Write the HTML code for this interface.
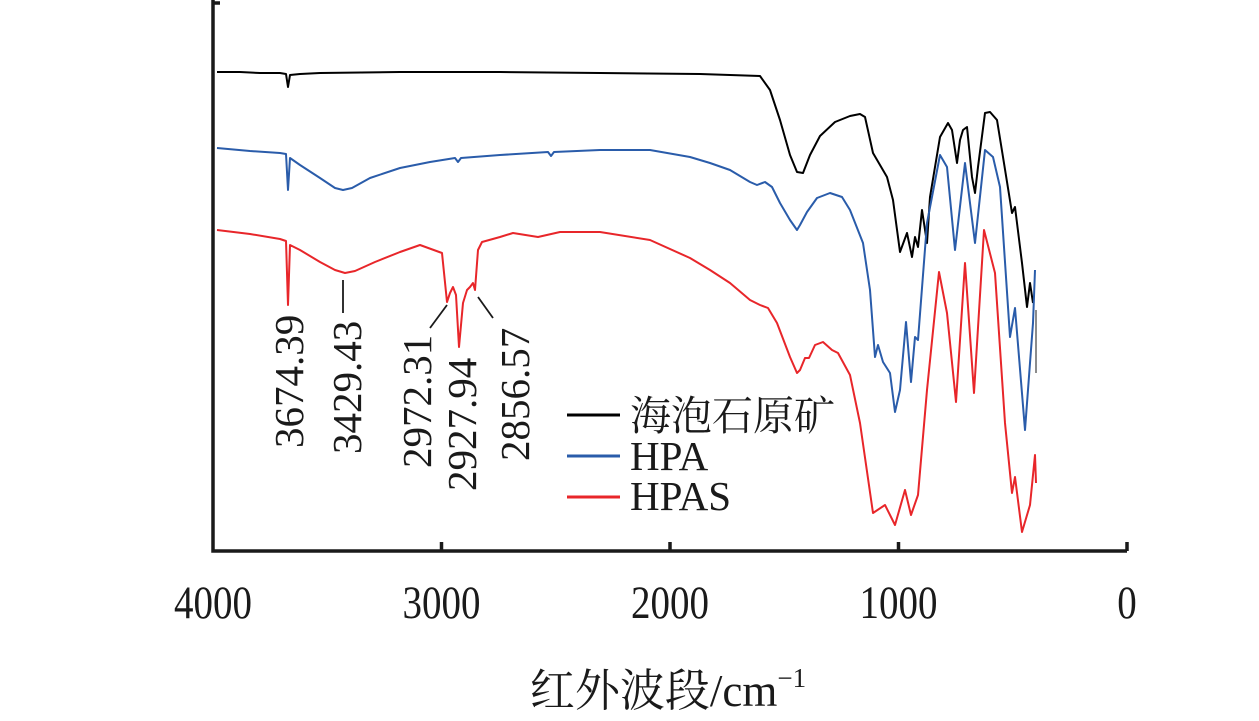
<!DOCTYPE html>
<html><head><meta charset="utf-8"><style>
html,body{margin:0;padding:0;background:#fff;}
svg{display:block;}
text{font-family:"Liberation Serif","Noto Serif CJK SC",serif;fill:#1a1a1a;}
</style></head><body>
<svg width="1259" height="721" viewBox="0 0 1259 721" xmlns="http://www.w3.org/2000/svg">
<g fill="none" stroke-linejoin="round" stroke-width="2">
<polyline stroke="#000" points="217,72 240,72 260,73 280,73 286,74 288,87 290,75 300,74 320,73 400,72 500,72 600,73 700,74 760,76 770,90 780,120 790,155 797,172 803,173 810,155 820,136 835,122 850,116 860,114 865,117 873,153 887,177 893,200 900,252 907,233 912,257 915,237 918,247 922,210 927,243 930,197 940,137 948,123 952,130 957,163 960,140 963,130 967,127 972,177 975,193 978,167 985,113 990,112 997,120 1003,157 1012,213 1015,207 1022,263 1027,307 1030,283 1033,303"/>
<line x1="1036" y1="310" x2="1036" y2="373" stroke="#666" stroke-width="1.5"/>
<polyline stroke="#2a5caa" points="217,148 250,151 280,153 286,154 288,190 290,158 300,165 320,178 335,188 343,190 352,188 370,178 400,168 430,162 455,158 458,162 461,158 500,155 548,152 551,156 554,152 600,150 650,150 690,157 710,163 730,170 750,182 757,185 765,182 772,187 780,203 790,220 797,230 800,225 807,212 817,198 830,193 842,197 850,210 863,243 870,290 875,357 878,345 883,362 890,373 895,412 900,390 906,322 911,382 915,337 918,340 927,223 940,155 947,167 955,250 965,163 975,243 985,150 993,157 1000,187 1010,337 1015,308 1025,430 1030,363 1033,323 1035,270"/>
<polyline stroke="#e8262a" points="217,230 250,234 280,239 286,241 288,305 290,245 300,250 320,262 335,270 345,273 355,271 375,262 400,252 420,245 442,253 447,302 450,293 453,287 456,295 459,347 463,303 467,290 470,287 473,283 475,290 478,250 482,242 500,237 513,233 538,237 560,232 600,232 650,240 690,258 710,270 730,283 750,300 760,305 768,308 777,323 790,357 797,373 800,370 805,358 809,358 815,345 823,342 832,350 838,353 850,375 860,423 873,513 885,505 895,525 905,490 911,515 918,495 927,390 939,272 947,313 956,402 965,263 974,393 984,230 995,273 1005,423 1012,493 1015,477 1022,532 1030,505 1035,455 1036,483"/>
</g>
<g stroke="#1a1a1a" stroke-width="1.8">
<line x1="343" y1="280" x2="343" y2="313"/>
<line x1="430" y1="328" x2="447" y2="305"/>
<line x1="478" y1="297" x2="493" y2="318"/>
</g>
<g stroke="#1a1a1a" stroke-width="3.5" fill="none">
<polyline points="213,0 213,551 1127,551"/>
<line x1="441.5" y1="551" x2="441.5" y2="542"/>
<line x1="670" y1="551" x2="670" y2="542"/>
<line x1="898.5" y1="551" x2="898.5" y2="542"/>
<line x1="1127" y1="551" x2="1127" y2="542"/>
<line x1="213" y1="3" x2="220" y2="3"/>
</g>
<g font-size="41">
<text transform="translate(303,448) rotate(-90)">3674.39</text>
<text transform="translate(361,454) rotate(-90)">3429.43</text>
<text transform="translate(431,468) rotate(-90)">2972.31</text>
<text transform="translate(476,491) rotate(-90)">2927.94</text>
<text transform="translate(529,461) rotate(-90)">2856.57</text>
</g>
<g stroke-width="3">
<line x1="567" y1="415" x2="620" y2="415" stroke="#000"/>
<line x1="567" y1="456" x2="620" y2="456" stroke="#2a5caa"/>
<line x1="567" y1="497" x2="620" y2="497" stroke="#e8262a"/>
</g>
<g font-size="41">
<text x="630" y="430">海泡石原矿</text>
<text x="630" y="470">HPA</text>
<text x="630" y="510">HPAS</text>
</g>
<g font-size="39" text-anchor="middle">
<text transform="translate(213,618) scale(1,1.2)">4000</text>
<text transform="translate(441.5,618) scale(1,1.2)">3000</text>
<text transform="translate(670,618) scale(1,1.2)">2000</text>
<text transform="translate(898.5,618) scale(1,1.2)">1000</text>
<text transform="translate(1127,618) scale(1,1.2)">0</text>
</g>
<text x="668" y="706" font-size="45" text-anchor="middle">红外波段/cm<tspan font-size="27" dy="-19">−1</tspan></text>
</svg>
</body></html>
